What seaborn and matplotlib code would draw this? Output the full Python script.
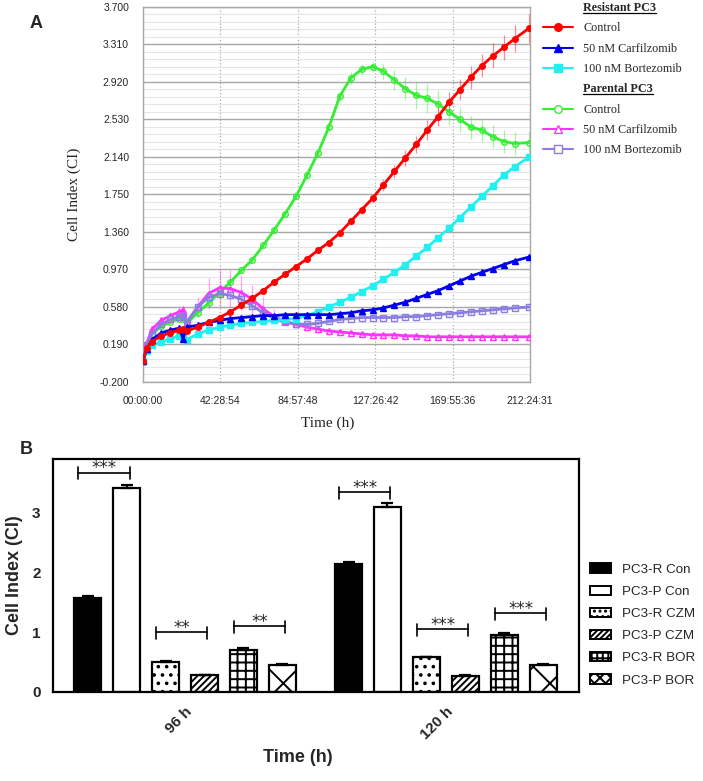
import matplotlib
matplotlib.use('Agg')
import numpy as np
import pandas as pd
import seaborn as sns
import matplotlib.pyplot as plt
from matplotlib.lines import Line2D
from matplotlib.patches import Patch
from matplotlib.transforms import IdentityTransform

# ---- Panel A: real-time cell index (xCELLigence), time in hours ----
hours = [0, 2, 5, 10, 15, 20, 22, 24, 30, 36, 42, 48, 54, 60, 66, 72, 78, 84, 90, 96,
         102, 108, 114, 120, 126, 132, 138, 144, 150, 156, 162, 168, 174, 180, 186, 192,
         198, 204, 212]

r_control = [0.02, 0.15, 0.22, 0.28, 0.31, 0.34, 0.35, 0.33, 0.37, 0.42, 0.47, 0.53, 0.60,
             0.67, 0.75, 0.84, 0.92, 1.00, 1.08, 1.17, 1.25, 1.35, 1.47, 1.59, 1.71, 1.85,
             1.99, 2.13, 2.27, 2.42, 2.56, 2.71, 2.84, 2.97, 3.09, 3.19, 3.28, 3.37, 3.48]
r_cfz = [0.02, 0.14, 0.24, 0.31, 0.34, 0.36, 0.25, 0.37, 0.39, 0.42, 0.44, 0.46, 0.47,
         0.48, 0.49, 0.49, 0.50, 0.50, 0.50, 0.50, 0.50, 0.51, 0.52, 0.54, 0.55, 0.57,
         0.60, 0.63, 0.67, 0.71, 0.75, 0.80, 0.85, 0.90, 0.94, 0.98, 1.02, 1.06, 1.10]
r_btz = [0.02, 0.12, 0.18, 0.22, 0.25, 0.28, 0.28, 0.24, 0.30, 0.34, 0.37, 0.39, 0.41,
         0.42, 0.43, 0.44, 0.45, 0.46, 0.49, 0.53, 0.58, 0.63, 0.68, 0.74, 0.80, 0.87,
         0.94, 1.02, 1.11, 1.20, 1.30, 1.40, 1.51, 1.62, 1.73, 1.84, 1.95, 2.04, 2.14]
p_control = [0.01, 0.20, 0.30, 0.38, 0.42, 0.46, 0.45, 0.41, 0.52, 0.62, 0.73, 0.84, 0.96,
             1.07, 1.22, 1.38, 1.55, 1.73, 1.95, 2.18, 2.45, 2.77, 2.96, 3.05, 3.08, 3.03,
             2.94, 2.85, 2.78, 2.75, 2.69, 2.61, 2.53, 2.45, 2.42, 2.35, 2.30, 2.28, 2.29]
p_cfz = [0.02, 0.20, 0.35, 0.44, 0.49, 0.53, 0.55, 0.42, 0.58, 0.72, 0.78, 0.77, 0.73,
         0.66, 0.56, 0.48, 0.43, 0.40, 0.37, 0.35, 0.33, 0.32, 0.31, 0.30, 0.29, 0.29,
         0.29, 0.28, 0.28, 0.27, 0.27, 0.27, 0.27, 0.27, 0.27, 0.27, 0.27, 0.27, 0.27]
p_btz = [0.02, 0.18, 0.30, 0.40, 0.45, 0.48, 0.49, 0.42, 0.58, 0.68, 0.72, 0.70, 0.66,
         0.59, 0.52, 0.46, 0.42, 0.40, 0.40, 0.41, 0.43, 0.45, 0.46, 0.47, 0.47, 0.47,
         0.47, 0.48, 0.48, 0.49, 0.50, 0.51, 0.52, 0.53, 0.54, 0.55, 0.56, 0.57, 0.58]

# standard deviations (vertical bars)
r_control_sd = [0.01, 0.01, 0.01, 0.01, 0.01, 0.01, 0.01, 0.01, 0.01, 0.01, 0.01, 0.01, 0.01,
                0.01, 0.01, 0.01, 0.02, 0.02, 0.02, 0.02, 0.02, 0.03, 0.03, 0.04, 0.05, 0.06,
                0.07, 0.08, 0.09, 0.10, 0.10, 0.11, 0.11, 0.12, 0.12, 0.13, 0.13, 0.14, 0.15]
p_control_sd = [0.01, 0.01, 0.01, 0.01, 0.01, 0.01, 0.01, 0.01, 0.02, 0.02, 0.02, 0.02, 0.02,
                0.02, 0.02, 0.02, 0.02, 0.03, 0.03, 0.03, 0.04, 0.05, 0.06, 0.06, 0.06, 0.08,
                0.10, 0.12, 0.14, 0.15, 0.15, 0.14, 0.13, 0.12, 0.12, 0.12, 0.12, 0.12, 0.12]
p_cfz_sd = [0.01, 0.02, 0.03, 0.03, 0.04, 0.05, 0.05, 0.03, 0.10, 0.16, 0.19, 0.19, 0.18,
            0.15, 0.12, 0.08, 0.04, 0.02, 0.01, 0.01, 0.01, 0.01, 0.01, 0.01, 0.01, 0.01,
            0.01, 0.01, 0.01, 0.01, 0.01, 0.01, 0.01, 0.01, 0.01, 0.01, 0.01, 0.01, 0.01]
small_sd = [0.02] * len(hours)

x_ticks = [0, 42.48, 84.96, 127.45, 169.93, 212.41]
x_tick_labels = ['00:00:00', '42:28:54', '84:57:48', '127:26:42', '169:55:36', '212:24:31']
y_ticks = [-0.2, 0.19, 0.58, 0.97, 1.36, 1.75, 2.14, 2.53, 2.92, 3.31, 3.7]

# ---- Panel B: cell index at 96 h and 120 h ----
time_points = ['96 h', '120 h']
groups = ['PC3-R Con', 'PC3-P Con', 'PC3-R CZM', 'PC3-P CZM', 'PC3-R BOR', 'PC3-P BOR']
ci_96 = [1.58, 3.42, 0.51, 0.28, 0.70, 0.45]
ci_120 = [2.14, 3.09, 0.58, 0.27, 0.96, 0.45]
sem_96 = [0.02, 0.04, 0.01, 0.01, 0.03, 0.01]
sem_120 = [0.03, 0.07, 0.01, 0.01, 0.03, 0.01]
sig_96 = [('***', 3.67), ('**', 1.00), ('**', 1.10)]
sig_120 = [('***', 3.34), ('***', 1.05), ('***', 1.32)]
bar_faces = ['black', 'white', 'white', 'white', 'white', 'white']
bar_hatches = ['', '', '..', '/////', '++', 'x']
legend_hatches = ['', '', '...', '//////', '+++', 'xxx']

sns.set_style('white')
plt.rcParams['font.family'] = ['Liberation Sans', 'DejaVu Sans']
plt.rcParams['hatch.linewidth'] = 1.4

fig = plt.figure(figsize=(7.03, 7.81), dpi=100)

# ================= Panel A =================
axA = fig.add_axes([0.2034, 0.5109, 0.5505, 0.4802])
serif = ['Liberation Serif', 'DejaVu Serif']

series = [
    ('Control', p_control, p_control_sd, '#33ee33', 'o', 'none'),
    ('50 nM Carfilzomib', p_cfz, p_cfz_sd, '#ff33ff', '^', 'none'),
    ('100 nM Bortezomib', p_btz, small_sd, '#8a7ee0', 's', 'none'),
    ('100 nM Bortezomib', r_btz, small_sd, '#22f0f0', 's', None),
    ('50 nM Carfilzomib', r_cfz, small_sd, '#0000ee', '^', None),
    ('Control', r_control, r_control_sd, '#ff0000', 'o', None),
]
for name, vals, sd, col, mk, fc in series:
    axA.errorbar(hours, vals, yerr=sd, fmt='none', ecolor=col, elinewidth=0.9,
                 alpha=0.45, capsize=0, zorder=2)
    sns.lineplot(x=hours, y=vals, ax=axA, color=col, marker=mk, markersize=4,
                 markerfacecolor=(col if fc is None else 'none'), markeredgecolor=col,
                 markeredgewidth=1.0, lw=2.0, legend=False, zorder=3)

axA.set_xlim(0, 212.41)
axA.set_ylim(-0.2, 3.7)
axA.set_xticks(x_ticks)
axA.set_xticklabels(x_tick_labels)
axA.set_yticks(y_ticks)
axA.set_yticklabels(['%.3f' % v for v in y_ticks])
axA.set_yticks(np.arange(-0.2, 3.7, 0.078), minor=True)
axA.grid(which='major', axis='y', color='#a8a8a8', lw=1.0, ls='-')
axA.grid(which='minor', axis='y', color='#e6e6e6', lw=0.8, ls='-')
axA.grid(which='major', axis='x', color='#a8a8a8', lw=0.9, ls=':')
axA.set_axisbelow(True)
for s in axA.spines.values():
    s.set_color('#a8a8a8')
    s.set_linewidth(1.0)
axA.tick_params(axis='both', which='major', direction='out', length=7, width=1.0,
                color='#a8a8a8', labelsize=7.5, pad=3)
axA.tick_params(axis='y', which='minor', length=0)
axA.set_xlabel('Time (h)', family=serif, fontsize=11)
axA.set_ylabel('Cell Index (CI)', family=serif, fontsize=11)
axA.xaxis.set_label_coords(0.478, -0.093)
axA.yaxis.set_label_coords(-0.16, 0.5)

handles = [Line2D([], [], color='none')]
labels = ['Resistant PC3']
for name, vals, sd, col, mk, fc in series[3:][::-1]:
    handles.append(Line2D([0], [0], color=col, marker=mk, ms=5.5, lw=1.5,
                          mfc=(col if fc is None else 'white'), mec=col))
    labels.append(name)
handles.append(Line2D([], [], color='none'))
labels.append('Parental PC3')
for name, vals, sd, col, mk, fc in series[:3]:
    handles.append(Line2D([0], [0], color=col, marker=mk, ms=5.5, lw=1.5,
                          mfc=(col if fc is None else 'white'), mec=col))
    labels.append(name)
legA = axA.legend(handles, labels, loc='upper left', bbox_to_anchor=(1.033, 1.013),
                  frameon=False, borderpad=0, borderaxespad=0, handlelength=2.5,
                  handletextpad=0.85, labelspacing=0.69,
                  prop={'family': serif, 'size': 8.7})
header_texts = [legA.get_texts()[0], legA.get_texts()[4]]
for t in header_texts:
    t.set_fontweight('bold')

fig.text(0.051, 0.970, 'A', fontsize=13, fontweight='bold', ha='center', va='center')

# ================= Panel B =================
axB = fig.add_axes([0.0754, 0.114, 0.7482, 0.2983])
dfB = pd.DataFrame({
    'time': [tp for tp in time_points for g in groups],
    'group': groups * len(time_points),
    'ci': ci_96 + ci_120,
})
sns.barplot(data=dfB, x='time', y='ci', hue='group', order=time_points, hue_order=groups,
            palette=dict(zip(groups, bar_faces)), width=0.896, gap=0.31, errorbar=None,
            edgecolor='black', linewidth=1.6, ax=axB, legend=False, saturation=1)
bar_conts = list(axB.containers)
for cont, fc, hat in zip(bar_conts, bar_faces, bar_hatches):
    for bar in cont:
        bar.set_facecolor(fc)
        bar.set_edgecolor('black')
        bar.set_hatch(hat)

sems = [sem_96, sem_120]
centers = np.zeros((len(groups), len(time_points)))
for gi, cont in enumerate(bar_conts):
    for ti, bar in enumerate(cont):
        cx = bar.get_x() + bar.get_width() / 2
        centers[gi, ti] = cx
        h = bar.get_height()
        axB.errorbar(cx, h, yerr=[[0], [sems[ti][gi]]], fmt='none', ecolor='black',
                     elinewidth=1.6, capsize=4.5, capthick=1.6, zorder=4)

for ti, sig in enumerate([sig_96, sig_120]):
    for k, (stars, yv) in enumerate(sig):
        c1 = centers[2 * k, ti]
        c2 = centers[2 * k + 1, ti]
        mid = (c1 + c2) / 2 - 0.012
        x0, x1 = mid - 0.098, mid + 0.098
        axB.plot([x0, x1], [yv, yv], color='black', lw=1.2)
        axB.plot([x0, x0], [yv - 0.11, yv + 0.09], color='black', lw=1.2)
        axB.plot([x1, x1], [yv - 0.11, yv + 0.09], color='black', lw=1.2)
        axB.text(mid, yv - 0.01, stars, ha='center', va='baseline', fontsize=12,
                 family='DejaVu Sans')

axB.set_xlim(-0.506, 1.51)
axB.set_ylim(0, 3.9)
axB.set_yticks([0, 1, 2, 3])
for s in axB.spines.values():
    s.set_color('black')
    s.set_linewidth(1.6)
axB.tick_params(axis='both', direction='out', length=6, width=1.6, color='black',
                labelsize=11, pad=3)
for lab in axB.get_yticklabels():
    lab.set_fontweight('bold')
axB.set_xticks([0, 1])
axB.set_xticklabels(time_points, rotation=45, ha='right', rotation_mode='anchor',
                    fontweight='bold', fontsize=11)
axB.set_xlabel('Time (h)', fontsize=13, fontweight='bold')
axB.set_ylabel('Cell Index (CI)', fontsize=13, fontweight='bold')
axB.xaxis.set_label_coords(0.466, -0.245)
axB.yaxis.set_label_coords(-0.057, 0.5)

legB_handles = [Patch(facecolor=fc, edgecolor='black', hatch=hat, linewidth=1.4)
                for fc, hat in zip(bar_faces, legend_hatches)]
axB.legend(legB_handles, groups, loc='upper left', bbox_to_anchor=(1.021, 0.552),
           frameon=False, borderpad=0, borderaxespad=0, handlelength=1.6,
           handleheight=0.7, handletextpad=0.8, labelspacing=0.74, fontsize=9.6)

fig.text(0.037, 0.424, 'B', fontsize=13, fontweight='bold', ha='center', va='center')

# underline the legend headers of panel A
fig.canvas.draw()
for t in header_texts:
    bb = t.get_window_extent()
    fig.add_artist(Line2D([bb.x0, bb.x1], [bb.y0 + 1, bb.y0 + 1], color='black', lw=0.9,
                          transform=IdentityTransform()))

fig.savefig('out.png', dpi=100)
